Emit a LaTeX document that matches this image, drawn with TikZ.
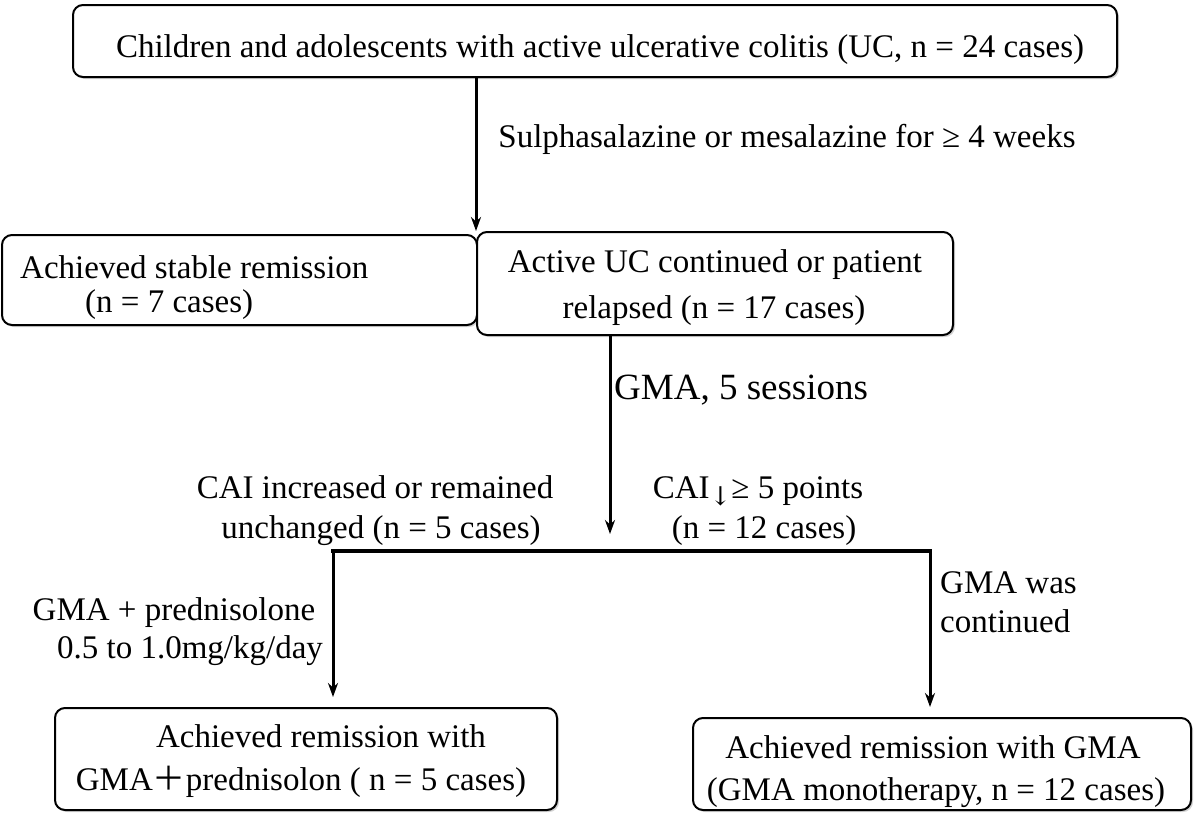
\documentclass[tikz,border=0pt]{standalone}
\usepackage{fontspec}
\setmainfont{Liberation Serif}
\newfontfamily\cjk{Noto Sans CJK SC}
\newfontfamily\arrowfont{DejaVu Serif}
\usetikzlibrary{arrows.meta,shadows}
\begin{document}
\begin{tikzpicture}[x=1pt,y=-1pt,
  box/.style={draw, fill=white, line width=2pt, rounded corners=10pt, inner sep=0pt,
    drop shadow={shadow xshift=2pt, shadow yshift=-2pt, opacity=0.35, fill=gray}},
  txt/.style={anchor=base, inner sep=0pt, font=\fontsize{33}{40}\selectfont},
  txtw/.style={txt, anchor=base west},
  arr/.style={line width=3pt, -{Stealth[length=14pt,width=10pt]}},
  bar/.style={line width=3.8pt}]
\useasboundingbox (0,0) rectangle (1200,820);
% boxes
\node[box, minimum width=1044pt, minimum height=72pt] (top) at (595,41) {};
\node[box, minimum width=475pt, minimum height=90pt] (left) at (239.5,280) {};
\node[box, minimum width=476pt, minimum height=103pt] (mid) at (715,283.5) {};
\node[box, minimum width=502pt, minimum height=102pt] (bl) at (306,759) {};
\node[box, minimum width=498pt, minimum height=92pt] (br) at (942,764) {};
% texts
\node[txt] (t1) at (600,57) {Children and adolescents with active ulcerative colitis (UC, n = 24 cases)};
\node[txt] (l1) at (787,147) {Sulphasalazine or mesalazine for ≥ 4 weeks};
\node[txtw] (a1) at (20,278) {Achieved stable remission};
\node[txtw] (a2) at (85,312) {(n = 7 cases)};
\node[txt] (m1) at (715,272) {Active UC continued or patient};
\node[txt] (m2) at (714,318) {relapsed (n = 17 cases)};
\node[txtw, font=\fontsize{37}{44}\selectfont] (l2) at (614,399) {GMA, 5 sessions};
\node[txt] (c1) at (375,498) {CAI increased or remained};
\node[txt] (c2) at (381,538) {unchanged (n = 5 cases)};
\node[txt] (d1) at (758,498) {CAI\raisebox{-7pt}{\arrowfont\fontsize{26}{26}\selectfont ↓}≥ 5 points};
\node[txt] (d2) at (764,538) {(n = 12 cases)};
\node[txt] (g1) at (174,620) {GMA + prednisolone};
\node[txt] (g2) at (190,658) {0.5 to 1.0mg/kg/day};
\node[txtw] (h1) at (940,593) {GMA was};
\node[txtw] (h2) at (940,632) {continued};
\node[txt] (b1) at (321,747) {Achieved remission with};
\node[txt] (b2) at (301,790) {GMA{\cjk ＋}prednisolon ( n = 5 cases)};
\node[txt] (r1) at (933,758) {Achieved remission with GMA};
\node[txt] (r2) at (936,800) {(GMA monotherapy, n = 12 cases)};
% connectors
\coordinate (j) at (610,534);
\coordinate (hl) at (333,551);
\coordinate (hr) at (930,551);
\draw[arr] (top.south -| mid.north west) -- (mid.north west);
\draw[arr] (mid.south -| j) -- (j);
\draw[bar] ([xshift=-1.9pt]hl) -- ([xshift=1.9pt]hr);
\draw[arr] (hl) -- ([yshift=10pt]bl.north -| hl);
\draw[arr] (hr) -- ([yshift=10pt]br.north -| hr);
\end{tikzpicture}
\end{document}
